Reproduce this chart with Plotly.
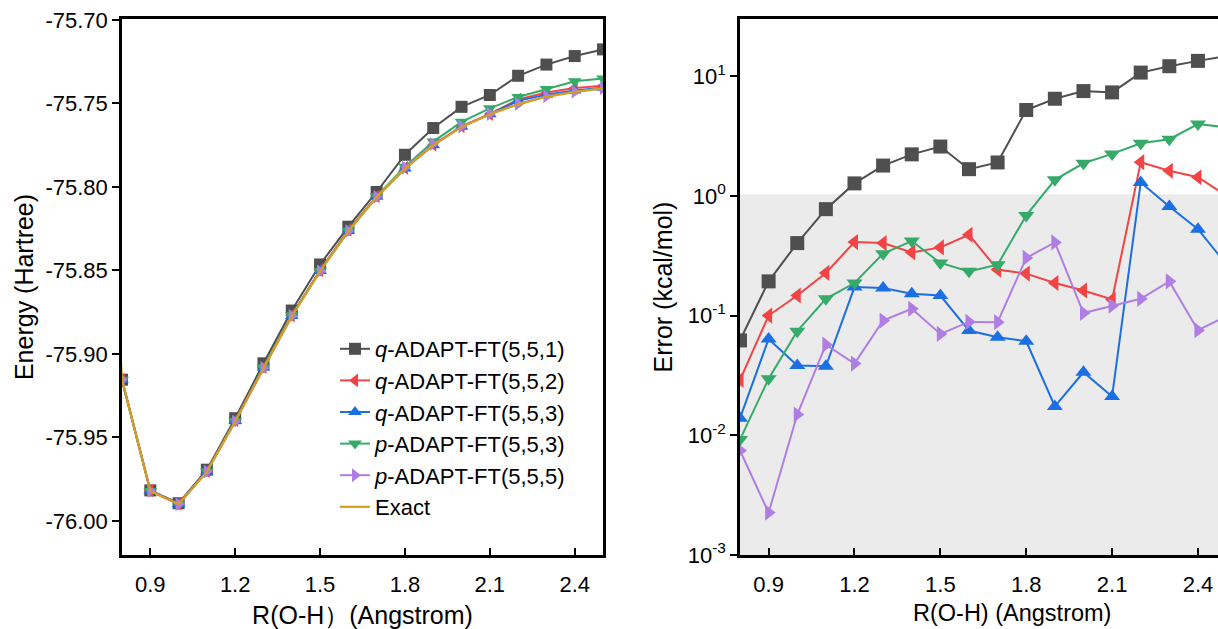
import plotly.graph_objects as go

# ---------------- data ----------------
R = [0.8, 0.9, 1.0, 1.1, 1.2, 1.3, 1.4, 1.5, 1.6, 1.7, 1.8, 1.9, 2.0, 2.1, 2.2, 2.3, 2.4, 2.5]

# Exact curve (includes a point just left of the visible range)
R_exact = [0.7] + R
E_exact = [-75.63, -75.9155, -75.9820, -75.9900, -75.9705, -75.9405, -75.9085, -75.8775, -75.8505,
           -75.8265, -75.8060, -75.7890, -75.7750, -75.7640, -75.7565, -75.7505, -75.7460,
           -75.7430, -75.7410]

E_q551 = [-75.9154, -75.9817, -75.9894, -75.9693, -75.9385, -75.9056, -75.8740, -75.8464, -75.8238,
          -75.8030, -75.7807, -75.7647, -75.7520, -75.7449, -75.7334, -75.7267, -75.7216, -75.7176]
E_q552 = [-75.9155, -75.9818, -75.9898, -75.9701, -75.9398, -75.9079, -75.8770, -75.8499, -75.8257,
          -75.8056, -75.7886, -75.7747, -75.7637, -75.7563, -75.7475, -75.7434, -75.7407, -75.7394]
E_q553 = [-75.9155, -75.9819, -75.9899, -75.9704, -75.9402, -75.9082, -75.8773, -75.8503, -75.8264,
          -75.8059, -75.7889, -75.7750, -75.7639, -75.7565, -75.7484, -75.7447, -75.7422, -75.7406]
E_p553 = [-75.9155, -75.9820, -75.9899, -75.9703, -75.9402, -75.9080, -75.8768, -75.8501, -75.8261,
          -75.8056, -75.7879, -75.7728, -75.7610, -75.7529, -75.7461, -75.7413, -75.7367, -75.7351]
E_p555 = [-75.9155, -75.9820, -75.9900, -75.9704, -75.9404, -75.9084, -75.8773, -75.8504, -75.8264,
          -75.8059, -75.7885, -75.7743, -75.7638, -75.7563, -75.7503, -75.7457, -75.7429, -75.7408]

# Errors (kcal/mol)
Err_q551 = [0.062, 0.193, 0.403, 0.774, 1.27, 1.79, 2.22, 2.58, 1.67, 1.90, 5.21, 6.47, 7.50, 7.31,
            10.7, 12.1, 13.4, 14.7]
Err_q552 = [0.029, 0.100, 0.147, 0.227, 0.411, 0.403, 0.337, 0.371, 0.473, 0.242, 0.224, 0.187,
            0.162, 0.136, 1.91, 1.62, 1.43, 1.00]
Err_q553 = [0.0139, 0.0638, 0.0382, 0.0377, 0.173, 0.170, 0.152, 0.147, 0.0749, 0.0659, 0.061,
            0.0174, 0.0336, 0.0211, 1.29, 0.815, 0.527, 0.266]
Err_p553 = [0.0092, 0.0297, 0.074, 0.138, 0.187, 0.329, 0.419, 0.275, 0.234, 0.266, 0.686, 1.36,
            1.87, 2.24, 2.75, 2.97, 3.98, 3.73]
Err_p555 = [0.00746, 0.00226, 0.0149, 0.0571, 0.0397, 0.0908, 0.114, 0.0703, 0.0885, 0.088, 0.303,
            0.408, 0.105, 0.121, 0.138, 0.193, 0.0754, 0.0987]

names = ["<i>q</i>-ADAPT-FT(5,5,1)", "<i>q</i>-ADAPT-FT(5,5,2)", "<i>q</i>-ADAPT-FT(5,5,3)",
         "<i>p</i>-ADAPT-FT(5,5,3)", "<i>p</i>-ADAPT-FT(5,5,5)"]
colors = ["#4f4f4f", "#f24444", "#1c6fe2", "#36aa68", "#b07ee2"]
symbols = ["square", "triangle-left", "triangle-up", "triangle-down", "triangle-right"]
exact_color = "#d4a01c"

x_ticks = [0.9, 1.2, 1.5, 1.8, 2.1, 2.4]
x_ticktext = ["0.9", "1.2", "1.5", "1.8", "2.1", "2.4"]
E_ticks = [-75.70, -75.75, -75.80, -75.85, -75.90, -75.95, -76.00]
E_ticktext = ["-75.70", "-75.75", "-75.80", "-75.85", "-75.90", "-75.95", "-76.00"]
Err_ticks = [0.001, 0.01, 0.1, 1, 10]
Err_ticktext = ["10<sup>-3</sup>", "10<sup>-2</sup>", "10<sup>-1</sup>", "10<sup>0</sup>", "10<sup>1</sup>"]

energies = [E_q551, E_q552, E_q553, E_p553, E_p555]
errors = [Err_q551, Err_q552, Err_q553, Err_p553, Err_p555]

FONT = "Liberation Sans, Arial, sans-serif"
W, H = 1218, 629
TOP, BOTTOM = 19, 555
TICK_SIZE = 22
TITLE_SIZE = 25

fig = go.Figure()

for i in range(5):
    fig.add_trace(go.Scatter(
        x=R, y=energies[i], mode="lines+markers", name=names[i],
        line=dict(color=colors[i], width=2),
        marker=dict(symbol=symbols[i], size=12, color=colors[i]),
        xaxis="x", yaxis="y", legendrank=i + 1))
fig.add_trace(go.Scatter(
    x=R_exact, y=E_exact, mode="lines", name="Exact",
    line=dict(color=exact_color, width=2.2), xaxis="x", yaxis="y", legendrank=6))

for i in range(5):
    fig.add_trace(go.Scatter(
        x=R, y=errors[i], mode="lines+markers", showlegend=False,
        line=dict(color=colors[i], width=2),
        marker=dict(symbol=symbols[i], size=14, color=colors[i]),
        xaxis="x2", yaxis="y2"))

# shaded region (chemical accuracy)
fig.add_shape(type="rect", xref="x2 domain", yref="y2", x0=0, x1=1, y0=0.001, y1=1.03,
              fillcolor="#ebebeb", line=dict(width=0), layer="below")

# right panel x-axis title (the panel continues past the right edge of the picture)
fig.add_annotation(text="R(O-H) (Angstrom)", xref="paper", yref="paper",
                   x=1012 / W, y=-(613 - BOTTOM) / (BOTTOM - TOP), xanchor="center", yanchor="middle",
                   showarrow=False, font=dict(family=FONT, size=23.5, color="black"))

axis_common = dict(showgrid=False, zeroline=False, showline=True, linecolor="black",
                   linewidth=2.5, tickwidth=2, tickcolor="black", automargin=False,
                   tickfont=dict(family=FONT, size=TICK_SIZE, color="black"))

fig.update_layout(
    width=W, height=H,
    margin=dict(l=0, r=0, t=TOP, b=H - BOTTOM, autoexpand=False),
    paper_bgcolor="white", plot_bgcolor="rgba(0,0,0,0)",
    font=dict(family=FONT, size=TICK_SIZE, color="black"),
    xaxis=dict(**axis_common, domain=[122 / W, 603 / W], range=[0.8, 2.5],
               tickvals=x_ticks, ticktext=x_ticktext, ticks="inside", ticklen=7,
               mirror=True, ticklabelstandoff=8,
               title=dict(text="R(O-H）(Angstrom)", font=dict(family=FONT, size=TITLE_SIZE), standoff=12)),
    yaxis=dict(**axis_common, domain=[0, 1], range=[-76.0204, -75.6994],
               tickvals=E_ticks, ticktext=E_ticktext, ticks="outside", ticklen=7, mirror=True,
               title=dict(text="Energy (Hartree)", font=dict(family=FONT, size=TITLE_SIZE), standoff=5)),
    xaxis2=dict(**axis_common, domain=[740 / W, 1.0], range=[0.8, 2.47], anchor="y2",
                tickvals=x_ticks, ticktext=x_ticktext, ticks="inside", ticklen=7,
                mirror=True, ticklabelstandoff=8),
    yaxis2=dict(**axis_common, domain=[0, 1], type="log", range=[-3, 1.477], anchor="x2",
                tickvals=Err_ticks, ticktext=Err_ticktext, ticks="outside", ticklen=7, mirror=False,
                title=dict(text="Error (kcal/mol)", font=dict(family=FONT, size=TITLE_SIZE), standoff=8)),
    legend=dict(x=335 / W, y=(BOTTOM - 328) / (BOTTOM - TOP),
                xanchor="left", yanchor="top", bgcolor="rgba(0,0,0,0)",
                font=dict(family=FONT, size=22, color="black"), tracegroupgap=0),
)

fig.write_html("out.html", config={"displayModeBar": False},
               post_script="document.body.style.margin='0';document.body.style.overflow='hidden';")
